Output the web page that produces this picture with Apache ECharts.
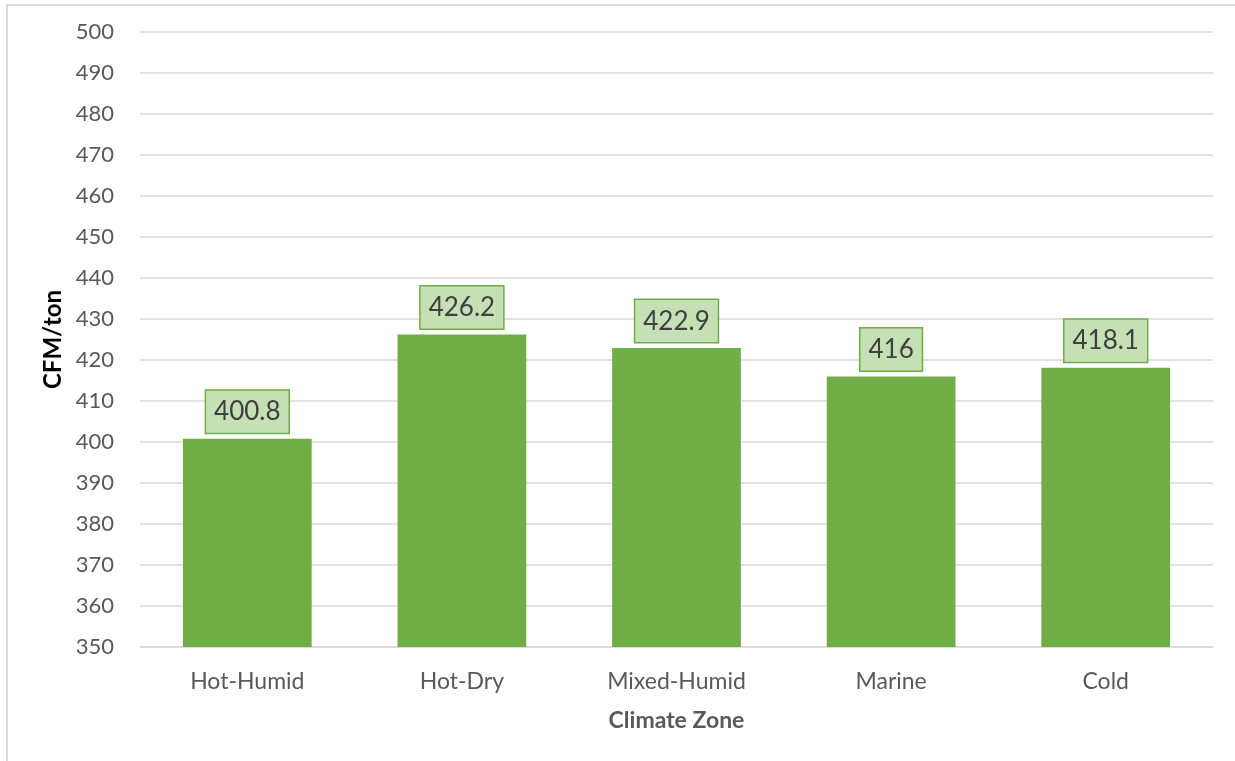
<!DOCTYPE html>
<html>
<head>
<meta charset="utf-8">
<script src="https://cdn.jsdelivr.net/npm/echarts@6/dist/echarts.min.js"></script>
<style>
html,body{margin:0;padding:0;background:#fff;}
#chart{width:1235px;height:761px;}
</style>
</head>
<body>
<div id="chart"></div>
<script>
const categories = ['Hot-Humid', 'Hot-Dry', 'Mixed-Humid', 'Marine', 'Cold'];
const values = [400.8, 426.2, 422.9, 416, 418.1];
const yName = 'CFM/ton';
const xName = 'Climate Zone';

const chart = echarts.init(document.getElementById('chart'), null, {renderer: 'canvas'});
const FONT = 'Lato';
chart.setOption({
  animation: false,
  backgroundColor: '#fff',
  graphic: [{
    type: 'rect',
    shape: {x: 7, y: 5, width: 1300, height: 900},
    style: {fill: 'none', stroke: '#d9d9d9', lineWidth: 2},
    silent: true
  }],
  grid: {left: 140, right: 22, top: 32, bottom: 114, containLabel: false},
  xAxis: {
    type: 'category',
    data: categories,
    name: xName,
    nameLocation: 'middle',
    nameGap: 62,
    nameTextStyle: {fontFamily: FONT, fontSize: 23, fontWeight: 'bold', color: '#595959'},
    axisLine: {show: true, lineStyle: {color: '#d9d9d9', width: 1.5}},
    axisTick: {show: false},
    axisLabel: {fontFamily: FONT, fontSize: 23, color: '#595959', margin: 23}
  },
  yAxis: {
    type: 'value',
    min: 350,
    max: 500,
    interval: 10,
    name: yName,
    nameLocation: 'middle',
    nameGap: 73,
    nameTextStyle: {fontFamily: FONT, fontSize: 24, fontWeight: 'bold', color: '#000'},
    axisLine: {show: false},
    axisTick: {show: false},
    axisLabel: {fontFamily: FONT, fontSize: 22, color: '#595959', margin: 26},
    splitLine: {lineStyle: {color: '#d9d9d9', width: 1.5}}
  },
  series: [{
    type: 'bar',
    data: values,
    barCategoryGap: '40%',
    itemStyle: {color: '#70AD47'},
    label: {
      show: true,
      position: 'top',
      distance: 6,
      fontFamily: FONT,
      fontSize: 26,
      color: '#404040',
      backgroundColor: '#C5E0B4',
      borderColor: '#70AD47',
      borderWidth: 1.5,
      padding: [6, 8],
      lineHeight: 30
    }
  }]
});
</script>
</body>
</html>
